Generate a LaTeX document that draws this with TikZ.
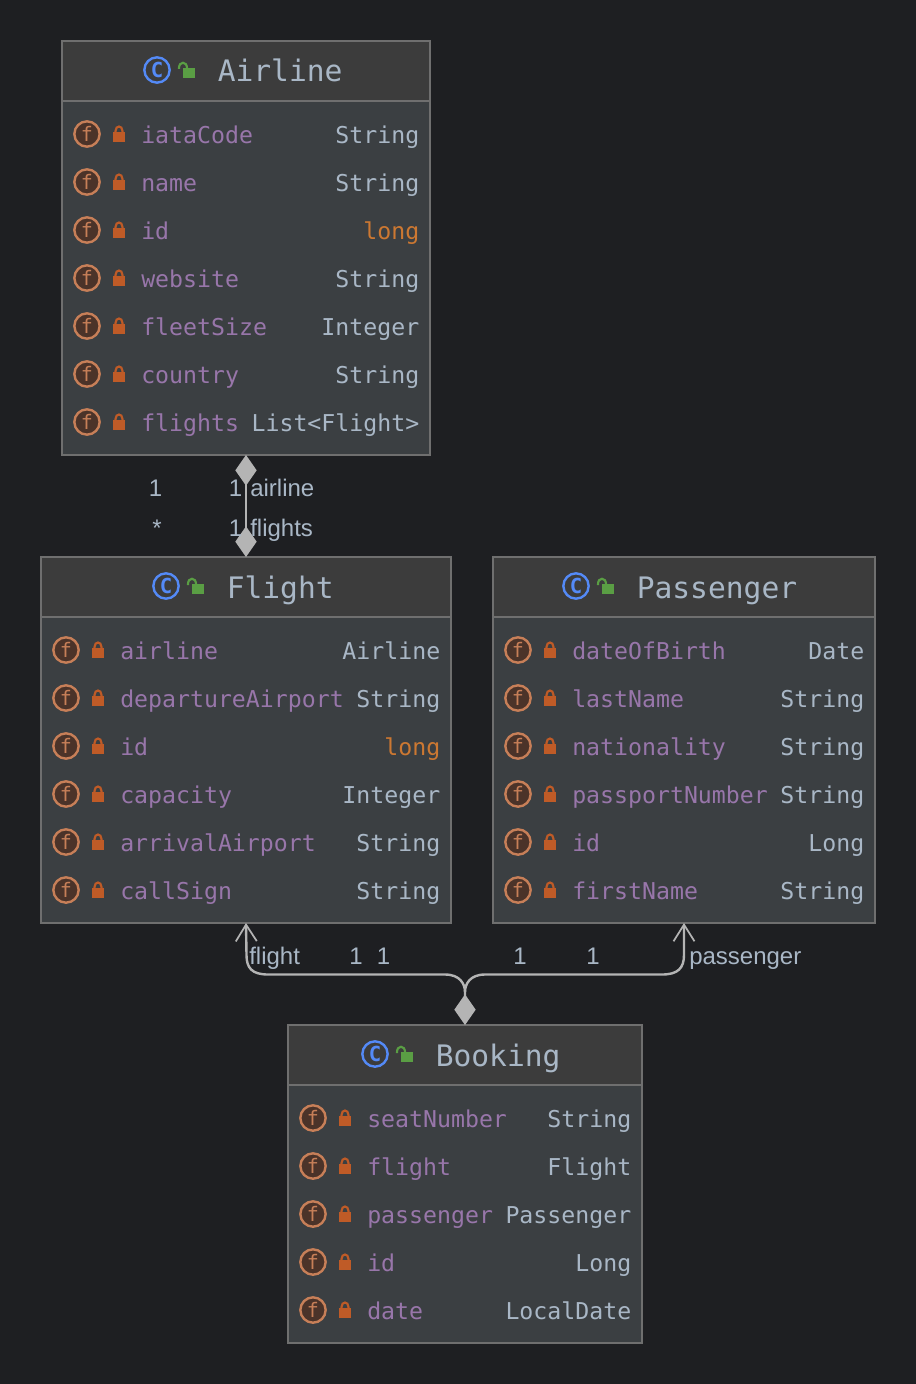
\documentclass[tikz,border=0pt]{standalone}
\usepackage{fontspec}
\setmainfont{Liberation Sans}
\setmonofont{DejaVu Sans Mono}
\usetikzlibrary{
    calc,
    arrows.meta
}
\definecolor{pagebg}{HTML}{1E1F22}
\definecolor{headbg}{HTML}{3C3C3C}
\definecolor{bodybg}{HTML}{3B3F42}
\definecolor{boxline}{HTML}{6F6F6F}
\definecolor{plaintext}{HTML}{A9B7C6}
\definecolor{fieldtext}{HTML}{9876AA}
\definecolor{keytext}{HTML}{CC7832}
\definecolor{lockred}{HTML}{BF5B27}
\definecolor{lockgreen}{HTML}{5A9E44}
\definecolor{classblue}{HTML}{548AF7}
\definecolor{fieldring}{HTML}{C77F58}
\definecolor{fieldfill}{HTML}{4B3329}
\definecolor{linkgrey}{HTML}{B4B4B4}
\tikzset{
  classbody/.style={draw=boxline, fill=bodybg, line width=1.5pt, inner sep=0pt, outer sep=0pt},
  classhead/.style={draw=boxline, fill=headbg, line width=1.5pt, inner sep=0pt, outer sep=0pt},
  titletext/.style={anchor=base west, inner sep=0pt, text=plaintext, font=\ttfamily\fontsize{22.2}{24}\selectfont},
  fieldtype/.style={anchor=base east, inner sep=0pt, font=\ttfamily\fontsize{17.4}{20}\selectfont},
  fieldname/.style={anchor=base west, inner sep=0pt, text=fieldtext, font=\ttfamily\fontsize{17.4}{20}\selectfont},
  roundicon/.style={circle, line width=1.8pt, minimum size=19pt, inner sep=0pt},
  linklabel/.style={inner sep=0pt, anchor=base, text=plaintext, font=\fontsize{18}{20}\selectfont},
  linkname/.style={linklabel, anchor=base west},
  link/.style={draw=linkgrey, line width=1.8pt}
}
\newcommand{\ClassBox}[7]{%
  \pgfmathsetmacro{\bw}{(#4-#2)*0.75}
  \pgfmathsetmacro{\bh}{(#5-#3)*0.75}
  \node[classbody, minimum width=\bw pt, minimum height=\bh pt] (#1) at ({(#2+#4)/2},{(#3+#5)/2}) {};
  \node[classhead, anchor=north, minimum width=\bw pt, minimum height=45pt] (#1head) at (#1.north) {};
  \node[roundicon, draw=classblue, fill=headbg, text=classblue, font=\ttfamily\bfseries\fontsize{15.5}{16}\selectfont] (#1icon) at (#7,{#3+29}) {C};
  \begin{scope}[shift={({#7+30},{#3+29})}]
    \draw[lockgreen, line width=1.6pt] (-8,-1) -- (-8,-2) .. controls (-8,-9) and (0,-9) .. (0,-2);
    \fill[lockgreen] (-4,-2) rectangle (8,8);
  \end{scope}
  \node[titletext] (#1title) at ({#7+60.5},{#3+41}) {#6};
}
\newcommand{\FieldRow}[6]{%
  \node[roundicon, draw=fieldring, fill=fieldfill, text=fieldring, font=\ttfamily\fontsize{15}{15}\selectfont] (f#1-#3) at ({#1+25},#3) {f};
  \begin{scope}[shift={({#1+57},#3)}]
    \draw[lockred, line width=1.6pt] (-3.5,-1) -- (-3.5,-3) .. controls (-3.5,-9) and (3.5,-9) .. (3.5,-3) -- (3.5,-1);
    \fill[lockred] (-6,-2) rectangle (6,8);
  \end{scope}
  \node[fieldname] (n#1-#3) at ({#1+79},{#3+9.5}) {#4};
  \node[fieldtype, text=#6] (t#1-#3) at ({#2-10.5},{#3+9.5}) {#5};
}

\begin{document}
\begin{tikzpicture}[x=0.75pt, y=-0.75pt]
  \fill[pagebg] (0,0) rectangle (916,1384);
  \useasboundingbox (0,0) rectangle (916,1384);

  \ClassBox{airline}{62}{41}{430}{455}{Airline}{157}
  \FieldRow{62}{430}{134}{iataCode}{String}{plaintext}
  \FieldRow{62}{430}{182}{name}{String}{plaintext}
  \FieldRow{62}{430}{230}{id}{long}{keytext}
  \FieldRow{62}{430}{278}{website}{String}{plaintext}
  \FieldRow{62}{430}{326}{fleetSize}{Integer}{plaintext}
  \FieldRow{62}{430}{374}{country}{String}{plaintext}
  \FieldRow{62}{430}{422}{flights}{List<Flight>}{plaintext}

  \ClassBox{flight}{41}{557}{451}{923}{Flight}{166}
  \FieldRow{41}{451}{650}{airline}{Airline}{plaintext}
  \FieldRow{41}{451}{698}{departureAirport}{String}{plaintext}
  \FieldRow{41}{451}{746}{id}{long}{keytext}
  \FieldRow{41}{451}{794}{capacity}{Integer}{plaintext}
  \FieldRow{41}{451}{842}{arrivalAirport}{String}{plaintext}
  \FieldRow{41}{451}{890}{callSign}{String}{plaintext}

  \ClassBox{passenger}{493}{557}{875}{923}{Passenger}{576}
  \FieldRow{493}{875}{650}{dateOfBirth}{Date}{plaintext}
  \FieldRow{493}{875}{698}{lastName}{String}{plaintext}
  \FieldRow{493}{875}{746}{nationality}{String}{plaintext}
  \FieldRow{493}{875}{794}{passportNumber}{String}{plaintext}
  \FieldRow{493}{875}{842}{id}{Long}{plaintext}
  \FieldRow{493}{875}{890}{firstName}{String}{plaintext}

  \ClassBox{booking}{288}{1025}{642}{1343}{Booking}{375}
  \FieldRow{288}{642}{1118}{seatNumber}{String}{plaintext}
  \FieldRow{288}{642}{1166}{flight}{Flight}{plaintext}
  \FieldRow{288}{642}{1214}{passenger}{Passenger}{plaintext}
  \FieldRow{288}{642}{1262}{id}{Long}{plaintext}
  \FieldRow{288}{642}{1310}{date}{LocalDate}{plaintext}

  % links
  \draw[link, {Diamond[length=23pt, width=16pt, line width=0pt, fill=linkgrey, color=linkgrey]}-{Diamond[length=23pt, width=16pt, line width=0pt, fill=linkgrey, color=linkgrey]}] (airline.south) -- (flight.north);

  \coordinate (bendL) at (268,974.5);
  \coordinate (bendR) at (662,974.5);
  \coordinate (bendML) at (445,974.5);
  \coordinate (bendMR) at (485,974.5);
  \draw[link, {Diamond[length=23pt, width=16pt, line width=0pt, fill=linkgrey, color=linkgrey]}-{Straight Barb[length=12.5pt, width=15.75pt, line width=1.3pt, color=linkgrey]}]
    (booking.north) -- (465,992) .. controls (465,984) and (460,974.5) .. (bendML) -- (bendL)
    .. controls (252,974.5) and (246.5,968) .. (246.5,955) -- (flight.south);
  \draw[link, -{Straight Barb[length=12.5pt, width=15.75pt, line width=1.3pt, color=linkgrey]}]
    (465,992) .. controls (465,984) and (470,974.5) .. (bendMR) -- (bendR)
    .. controls (678,974.5) and (684,968) .. (684,955) -- (passenger.south);

  \node[linklabel] (l1) at (155.5,496) {1};
  \node[linklabel] (l2) at (235.5,496) {1};
  \node[linkname] (l3) at (250,496) {airline};
  \node[linklabel] (l4) at (157,536) {*};
  \node[linklabel] (l5) at (235.5,536) {1};
  \node[linkname] (l6) at (250,536) {flights};
  \node[linkname] (l7) at (249,964) {flight};
  \node[linklabel] (l8) at (356,964) {1};
  \node[linklabel] (l9) at (383.5,964) {1};
  \node[linklabel] (l10) at (520,964) {1};
  \node[linklabel] (l11) at (593,964) {1};
  \node[linkname] (l12) at (689,964) {passenger};
\end{tikzpicture}
\end{document}
